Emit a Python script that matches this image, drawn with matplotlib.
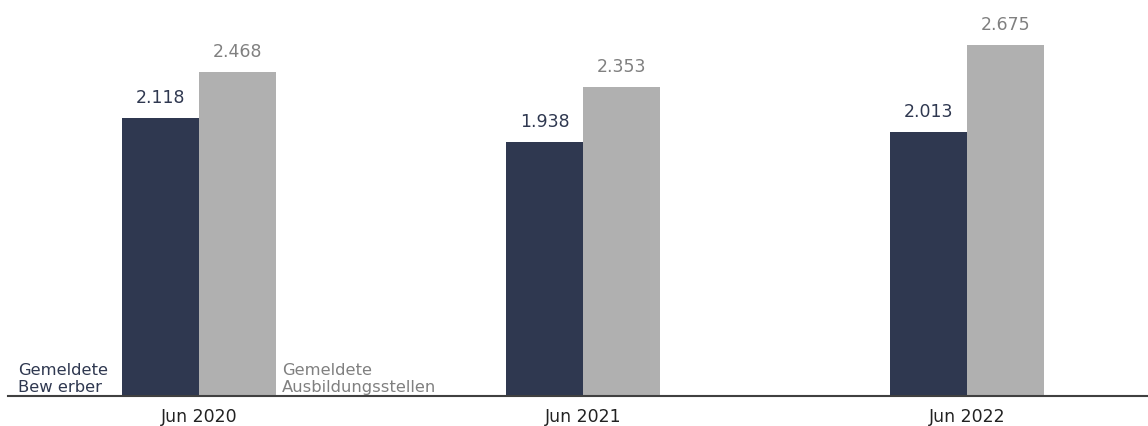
import numpy as np
import matplotlib.pyplot as plt

plt.rcParams['font.family'] = ['DejaVu Sans']

# Daten
kategorien = ["Jun 2020", "Jun 2021", "Jun 2022"]
bewerber = [2118, 1938, 2013]
stellen = [2468, 2353, 2675]

dunkel = "#2f3850"
grau = "#b0b0b0"

fig = plt.figure(figsize=(11.48, 4.26), dpi=100)
ax = fig.add_axes([8 / 1148, 30 / 426, 1 - 8 / 1148, 396 / 426])

x = np.arange(len(kategorien))
b = 0.2

balken1 = ax.bar(x - b / 2, bewerber, b, color=dunkel)
balken2 = ax.bar(x + b / 2, stellen, b, color=grau)


def fmt(v):
    return f"{v:,}".replace(",", ".")


for rects, werte, farbe in [(balken1, bewerber, dunkel), (balken2, stellen, "#808080")]:
    for r, v in zip(rects, werte):
        ax.annotate(fmt(v), (r.get_x() + r.get_width() / 2, v),
                    xytext=(0, 8), textcoords="offset points",
                    ha="center", va="bottom", fontsize=12.5, color=farbe)

# Legende direkt im Diagramm
ax.text(-0.471, 5, "Gemeldete\nBew erber", ha="left", va="bottom",
        fontsize=11.8, color=dunkel, linespacing=1.2)
ax.text(0.216, 5, "Gemeldete\nAusbildungsstellen", ha="left", va="bottom",
        fontsize=11.8, color="#808080", linespacing=1.2)

ax.set_xlim(-0.497, 2.471)
ax.set_ylim(0, 3018)
ax.set_xticks(x)
ax.set_xticklabels(kategorien, fontsize=12.5, color="#222222")
ax.tick_params(axis="x", length=0, pad=9)
ax.set_yticks([])

for s in ["top", "right", "left"]:
    ax.spines[s].set_visible(False)
ax.spines["bottom"].set_color("#404040")
ax.spines["bottom"].set_linewidth(1.5)

plt.savefig("out.png", dpi=100)
